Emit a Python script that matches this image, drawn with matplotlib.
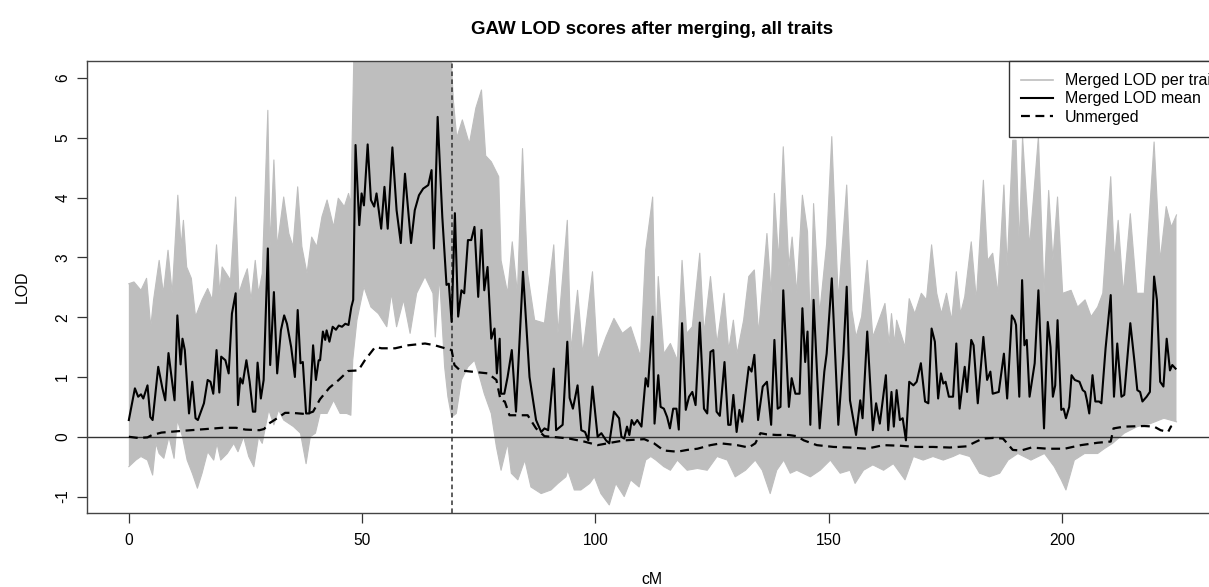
import numpy as np
import matplotlib
matplotlib.use("Agg")
import matplotlib.pyplot as plt
from matplotlib.lines import Line2D

plt.rcParams['font.family'] = ['Liberation Sans', 'DejaVu Sans']

# Media de LOD fusionado (cM, LOD)
mean_pts = [
    (0.0, 0.28), (1.3, 0.81), (2.0, 0.67), (2.6, 0.71), (3.1, 0.64), (4.0, 0.86),
    (4.6, 0.33), (5.1, 0.28), (6.3, 1.17), (7.2, 0.81), (7.8, 0.61), (8.5, 1.40),
    (9.0, 1.09), (9.8, 0.61), (10.4, 2.03), (11.1, 1.21), (11.5, 1.64), (12.0, 1.45),
    (12.9, 0.39), (13.6, 0.92), (14.3, 0.31), (14.8, 0.28), (16.1, 0.56), (16.9, 0.95),
    (17.5, 0.92), (18.1, 0.72), (18.8, 1.45), (19.4, 0.74), (19.8, 1.34), (20.7, 1.28),
    (21.4, 1.06), (22.1, 2.06), (22.9, 2.40), (23.4, 0.53), (23.9, 0.98), (24.4, 0.89),
    (25.2, 1.28), (25.9, 0.92), (26.6, 0.42), (27.1, 0.42), (27.6, 1.24), (28.3, 0.64),
    (28.9, 0.95), (29.8, 3.15), (30.3, 1.20), (31.1, 2.42), (31.8, 1.06), (32.6, 1.78),
    (33.3, 2.03), (33.9, 1.89), (34.8, 1.50), (35.6, 1.00), (36.2, 2.12), (36.8, 1.23),
    (37.3, 1.25), (38.0, 0.39), (38.7, 0.39), (39.5, 1.53), (40.1, 0.95), (40.7, 1.28),
    (41.0, 1.28), (41.6, 1.76), (42.1, 1.62), (42.4, 1.78), (43.0, 1.59), (43.7, 1.84),
    (44.4, 1.79), (45.0, 1.86), (45.7, 1.84), (46.4, 1.89), (47.1, 1.87), (47.7, 2.17),
    (48.1, 2.29), (48.6, 4.88), (49.4, 3.54), (49.9, 4.07), (50.4, 3.87), (51.2, 4.89),
    (51.9, 3.96), (52.6, 3.85), (53.1, 4.07), (54.1, 3.48), (54.8, 4.18), (55.5, 3.48),
    (56.5, 4.84), (57.4, 3.79), (58.3, 3.24), (59.2, 4.40), (60.5, 3.24), (61.3, 3.79),
    (62.2, 4.04), (63.1, 4.15), (64.2, 4.21), (64.9, 4.46), (65.4, 3.15), (66.2, 5.35),
    (67.2, 3.68), (68.1, 2.54), (68.6, 2.56), (69.2, 1.92), (69.9, 3.74), (70.6, 2.01),
    (71.3, 2.45), (71.9, 2.40), (72.7, 3.29), (73.4, 3.29), (74.1, 3.51), (74.9, 2.34),
    (75.6, 3.46), (76.2, 2.45), (76.9, 2.84), (77.7, 1.64), (78.4, 1.81), (78.9, 1.06),
    (79.5, 1.64), (79.8, 0.72), (80.5, 0.72), (81.2, 1.00), (82.1, 1.45), (83.0, 0.42),
    (84.5, 2.76), (85.9, 1.00), (87.3, 0.28), (88.4, 0.08), (89.1, 0.14), (89.9, 0.11),
    (91.1, 1.14), (91.6, 0.11), (93.0, 0.20), (94.0, 1.59), (94.5, 0.65), (95.2, 0.47),
    (96.2, 0.86), (97.0, 0.11), (97.8, 0.08), (98.5, -0.06), (99.4, 0.84), (100.5, 0.00),
    (101.3, 0.06), (102.3, -0.06), (103.0, -0.11), (104.0, 0.42), (105.1, 0.31), (105.6, 0.00),
    (106.2, -0.03), (106.8, 0.17), (107.3, 0.03), (107.8, 0.28), (108.3, 0.20), (109.0, 0.28),
    (109.9, 0.17), (110.8, 0.98), (111.3, 0.84), (112.3, 2.01), (112.7, 0.22), (113.5, 1.03),
    (114.0, 0.50), (114.7, 0.47), (115.4, 0.33), (116.0, 0.14), (116.7, 0.47), (117.4, 0.47),
    (117.9, 0.12), (118.6, 1.90), (119.4, 0.45), (120.1, 0.67), (120.8, 0.75), (121.5, 0.53),
    (122.4, 1.91), (123.3, 0.47), (124.0, 0.39), (124.7, 1.42), (125.3, 1.45), (126.0, 0.42),
    (126.7, 0.35), (127.7, 1.25), (128.5, 0.20), (129.0, 0.20), (129.6, 0.70), (130.3, 0.08),
    (130.9, 0.45), (131.5, 0.25), (132.2, 0.72), (132.9, 1.17), (133.5, 1.09), (134.1, 1.37),
    (134.9, 0.28), (135.9, 0.84), (136.8, 0.92), (137.7, 0.20), (138.4, 1.62), (139.1, 0.47),
    (139.7, 0.50), (140.3, 2.45), (141.5, 0.50), (142.1, 0.98), (142.9, 0.72), (143.8, 0.72),
    (144.4, 2.15), (145.0, 1.25), (145.5, 1.76), (146.1, 0.20), (146.8, 2.29), (148.1, 0.14),
    (149.1, 1.09), (149.6, 1.39), (150.7, 2.65), (152.1, 0.20), (153.2, 1.39), (153.9, 2.51),
    (154.6, 0.61), (155.9, 0.03), (156.8, 0.61), (157.3, 0.31), (158.3, 1.76), (159.5, 0.11),
    (160.2, 0.56), (161.0, 0.22), (162.3, 1.03), (162.8, 0.11), (163.5, 0.75), (164.0, 0.17),
    (164.6, 0.78), (165.3, 0.28), (165.9, 0.31), (166.6, -0.06), (167.3, 0.92), (168.2, 0.86),
    (168.9, 0.92), (169.8, 1.23), (170.7, 0.59), (171.4, 0.56), (172.1, 1.81), (172.8, 1.59),
    (173.5, 0.64), (174.1, 1.06), (174.6, 0.89), (175.1, 0.92), (175.8, 0.67), (176.7, 0.67),
    (177.4, 1.56), (178.1, 0.47), (179.2, 1.17), (179.7, 0.75), (180.6, 1.62), (181.1, 1.53),
    (182.0, 0.56), (183.2, 1.67), (184.0, 0.95), (184.7, 1.09), (185.2, 0.72), (186.5, 0.75),
    (187.6, 1.39), (188.3, 0.64), (189.3, 2.03), (189.9, 1.95), (190.2, 1.87), (190.9, 0.67),
    (191.5, 2.62), (192.0, 1.53), (192.5, 1.62), (193.1, 0.67), (194.2, 1.23), (195.0, 2.45),
    (196.2, 0.14), (197.0, 1.92), (197.6, 1.50), (198.1, 0.67), (198.6, 0.86), (199.1, 1.95),
    (199.9, 0.45), (200.4, 0.47), (200.9, 0.31), (201.6, 0.50), (202.1, 1.03), (202.8, 0.95),
    (203.8, 0.92), (204.5, 0.78), (205.0, 0.75), (205.4, 0.61), (205.9, 0.39), (206.6, 1.03),
    (207.2, 0.59), (208.0, 0.59), (208.5, 0.56), (209.4, 1.48), (210.5, 2.37), (211.2, 0.67),
    (211.9, 1.56), (212.8, 0.67), (213.4, 0.70), (214.7, 1.90), (215.6, 1.25), (216.2, 0.78),
    (216.8, 0.75), (217.3, 0.59), (218.2, 0.67), (218.9, 0.75), (219.8, 2.68), (220.4, 2.29),
    (221.1, 0.92), (221.8, 0.84), (222.5, 1.64), (223.2, 1.11), (223.7, 1.20), (224.4, 1.14),
]

# LOD sin fusionar (linea discontinua)
unmerged_pts = [
    (0, 0.00), (2, -0.02), (4, -0.01), (5, 0.03), (7, 0.07), (10, 0.09), (15, 0.12),
    (20, 0.15), (23, 0.15), (25, 0.12), (28, 0.11), (29, 0.13), (30, 0.22), (32, 0.32),
    (33.5, 0.40), (35, 0.40), (38, 0.38), (39.5, 0.42), (41, 0.63), (43, 0.82), (45, 0.95),
    (47, 1.10), (49.2, 1.11), (50.6, 1.28), (52.8, 1.50), (54.2, 1.48), (57.1, 1.48),
    (59.9, 1.53), (63.5, 1.56), (65.6, 1.53), (67.8, 1.48), (69.2, 1.45), (69.8, 1.20),
    (71.0, 1.11), (73.4, 1.09), (77.0, 1.06), (78.8, 0.95), (79.7, 0.61), (80.6, 0.59),
    (81.6, 0.36), (85.5, 0.36), (87.3, 0.14), (89.1, 0.01), (91.9, -0.01), (94.4, -0.03),
    (97.6, -0.08), (100.5, -0.14), (103.3, -0.10), (106.2, -0.06), (110.5, -0.04),
    (112.6, -0.11), (114.7, -0.23), (117.6, -0.25), (119.7, -0.22), (121.9, -0.20),
    (124.7, -0.14), (126.9, -0.11), (130.4, -0.14), (132.9, -0.18), (134.3, -0.11),
    (135.4, 0.06), (136.8, 0.04), (138.9, 0.03), (141.4, 0.03), (143.2, 0.01), (144.7, -0.06),
    (147.5, -0.14), (151.1, -0.17), (154.6, -0.18), (158.2, -0.20), (161.8, -0.14),
    (165.3, -0.15), (168.9, -0.17), (172.4, -0.17), (176.0, -0.18), (179.6, -0.16),
    (181.7, -0.08), (183.1, -0.03), (185.3, -0.02), (187.4, -0.03), (188.3, -0.11),
    (189.5, -0.22), (191.3, -0.23), (193.5, -0.18), (197.0, -0.20), (200.6, -0.20),
    (204.1, -0.14), (207.7, -0.10), (210.5, -0.08), (211.1, 0.14), (213.4, 0.17),
    (217.7, 0.18), (219.8, 0.17), (221.2, 0.11), (222.8, 0.08), (223.4, 0.17), (223.6, 0.18),
]

# Envolvente superior de las curvas por rasgo
trait_hi = [
    (0, 2.56), (1.1, 2.59), (2.6, 2.45), (3.8, 2.65), (4.7, 1.84), (5.3, 2.29), (6.5, 2.95),
    (7.4, 2.40), (8.4, 3.12), (9.3, 2.40), (10.5, 4.04), (11.2, 3.18), (11.7, 3.62), (12.4, 2.84),
    (13.4, 2.65), (14.3, 2.01), (15.7, 2.29), (16.9, 2.48), (17.9, 2.29), (18.8, 3.21), (19.5, 2.40),
    (20.0, 2.84), (20.9, 2.73), (21.8, 2.62), (22.9, 4.01), (23.6, 2.40), (24.5, 2.62), (25.4, 2.81),
    (26.2, 2.29), (27.1, 2.95), (27.8, 2.40), (28.6, 2.73), (29.8, 5.46), (30.3, 3.18), (31.1, 4.63),
    (31.8, 3.18), (33.2, 4.01), (34.3, 3.40), (35.2, 3.18), (36.2, 4.18), (37.1, 3.18), (38.2, 2.73),
    (39.2, 3.34), (40.3, 3.18), (41.4, 3.68), (42.5, 3.96), (43.9, 3.51), (44.9, 3.99), (46.2, 3.85),
    (47.1, 4.07), (47.6, 3.90), (48.3, 6.6), (67.0, 6.6), (68.9, 6.6), (69.6, 5.6), (70.3, 5.0),
    (71.5, 5.3), (73.0, 4.9), (74.4, 5.5), (75.6, 5.8), (76.5, 4.7), (77.7, 4.6), (79.3, 4.35),
    (79.8, 2.95), (81.2, 2.40), (82.2, 3.26), (83.3, 2.40), (84.4, 4.82), (85.5, 2.73), (87.0, 1.95),
    (89.1, 1.90), (91.1, 3.21), (92.0, 1.73), (94.0, 3.62), (94.8, 1.45), (96.2, 2.45), (97.3, 1.39),
    (99.4, 2.76), (100.5, 1.28), (102.3, 1.67), (104.0, 1.98), (105.8, 1.73), (107.6, 1.84),
    (109.7, 1.34), (110.8, 3.12), (112.3, 4.01), (113.0, 1.56), (113.5, 2.68), (114.7, 1.39),
    (116.1, 1.56), (117.6, 1.28), (118.6, 2.95), (119.6, 1.73), (120.8, 1.84), (122.4, 3.07),
    (123.3, 1.73), (124.7, 2.68), (126.1, 1.56), (127.6, 2.40), (128.6, 1.45), (129.6, 1.95),
    (130.4, 1.39), (131.8, 1.95), (132.9, 2.68), (134.1, 2.79), (135.0, 1.73), (136.8, 3.40),
    (137.7, 2.40), (138.4, 4.07), (139.3, 2.95), (140.3, 4.85), (141.5, 2.84), (142.2, 3.34),
    (143.2, 2.40), (144.4, 4.04), (145.5, 3.43), (146.1, 1.84), (146.8, 3.90), (148.1, 2.06),
    (149.6, 3.23), (150.7, 5.02), (152.1, 2.29), (153.9, 4.21), (155.0, 2.12), (155.9, 1.67),
    (157.1, 2.01), (158.3, 2.95), (159.5, 1.67), (160.3, 1.84), (162.1, 2.23), (163.0, 1.56),
    (163.5, 2.06), (164.2, 1.56), (164.6, 1.95), (166.4, 1.50), (167.3, 2.31), (168.5, 2.06),
    (169.9, 2.40), (171.0, 2.29), (172.1, 3.21), (173.2, 2.40), (174.2, 2.06), (175.3, 2.40),
    (176.4, 1.95), (177.4, 2.76), (178.3, 2.06), (179.2, 2.34), (180.6, 3.26), (181.7, 2.29),
    (183.2, 4.29), (184.1, 2.95), (185.2, 3.07), (186.3, 2.40), (187.6, 4.21), (188.3, 2.84),
    (189.5, 4.96), (190.2, 4.96), (190.9, 3.18), (191.6, 5.02), (193.1, 3.18), (195.0, 5.02),
    (196.2, 2.40), (197.2, 4.12), (198.1, 2.95), (199.1, 4.01), (200.2, 2.40), (202.0, 2.45),
    (203.4, 2.17), (205.0, 2.29), (206.3, 2.01), (207.7, 2.17), (208.8, 2.40), (210.5, 4.35),
    (211.3, 2.95), (212.1, 3.62), (213.2, 2.40), (214.7, 3.73), (216.1, 2.40), (217.7, 2.40),
    (219.8, 4.93), (221.1, 2.95), (222.4, 3.85), (223.5, 3.51), (224.6, 3.71),
]

# Envolvente inferior de las curvas por rasgo
trait_lo = [
    (0, -0.50), (1.5, -0.39), (2.6, -0.33), (4.0, -0.39), (5.1, -0.64), (5.8, -0.11), (6.5, -0.28),
    (7.5, -0.36), (8.6, 0.00), (9.7, -0.36), (10.4, 0.28), (11.5, 0.00), (12.5, -0.39), (13.6, -0.61),
    (14.7, -0.86), (15.7, -0.61), (16.9, -0.25), (18.2, -0.39), (18.9, -0.11), (19.7, -0.39),
    (21.1, -0.28), (22.5, -0.11), (23.4, -0.25), (24.6, 0.00), (25.7, -0.33), (26.8, -0.50),
    (27.8, 0.00), (28.6, -0.11), (30.0, 0.45), (31.1, 0.20), (32.1, 0.45), (33.2, 0.28), (35.3, 0.17),
    (36.8, 0.06), (38.0, -0.45), (38.9, 0.00), (40.0, 0.06), (41.0, 0.39), (42.5, 0.39), (43.9, 0.61),
    (45.3, 0.39), (46.7, 0.39), (47.6, 0.36), (48.0, 1.28), (48.9, 1.95), (50.4, 2.51), (51.9, 2.17),
    (53.5, 2.06), (55.3, 1.84), (56.3, 2.40), (57.4, 1.84), (58.9, 2.29), (60.3, 1.73), (61.7, 2.40),
    (63.5, 2.68), (65.2, 2.40), (65.7, 1.67), (66.6, 2.68), (67.7, 1.17), (68.4, 0.67), (69.2, 0.33),
    (70.2, 0.39), (71.3, 0.95), (72.7, 1.17), (74.1, 1.28), (75.2, 1.00), (76.2, 0.72), (77.7, 0.39),
    (78.8, -0.17), (79.8, -0.56), (81.2, -0.11), (82.0, -0.61), (83.4, -0.72), (84.9, -0.39),
    (86.2, -0.84), (88.4, -0.95), (90.5, -0.89), (92.0, -0.78), (93.7, -0.67), (94.1, -0.56),
    (95.5, -0.89), (96.9, -0.89), (98.8, -0.78), (99.8, -0.67), (101.2, -0.95), (103.0, -1.14),
    (104.4, -0.78), (106.2, -1.00), (107.6, -0.72), (109.4, -0.84), (110.8, -0.39), (111.9, -0.33),
    (113.0, -0.39), (114.7, -0.50), (116.1, -0.56), (117.6, -0.39), (119.7, -0.56), (121.9, -0.53),
    (124.0, -0.56), (126.1, -0.33), (128.3, -0.39), (130.0, -0.67), (132.2, -0.56), (134.3, -0.39),
    (135.8, -0.56), (137.5, -0.95), (138.9, -0.56), (140.4, -0.39), (141.8, -0.61), (143.2, -0.56),
    (146.1, -0.67), (148.2, -0.56), (150.4, -0.39), (152.5, -0.61), (154.6, -0.56), (155.7, -0.78),
    (157.5, -0.56), (159.5, -0.47), (161.8, -0.56), (163.9, -0.45), (166.4, -0.72), (168.2, -0.33),
    (170.3, -0.39), (172.4, -0.33), (174.6, -0.39), (176.7, -0.33), (178.1, -0.28), (180.3, -0.33),
    (182.4, -0.61), (184.5, -0.67), (186.7, -0.61), (188.5, -0.39), (190.6, -0.28), (193.4, -0.39),
    (196.3, -0.28), (198.4, -0.50), (199.9, -0.72), (200.9, -0.89), (202.7, -0.39), (204.9, -0.28),
    (207.7, -0.28), (209.1, -0.20), (210.9, -0.11), (213.4, 0.06), (216.2, 0.17), (219.0, 0.22),
    (221.9, 0.31), (224.6, 0.25),
]

marker_cm = 69.3
x_ticks = [0, 50, 100, 150, 200]
y_ticks = [-1, 0, 1, 2, 3, 4, 5, 6]
legend_labels = ['Merged LOD per trait', 'Merged LOD mean', 'Unmerged']

W, H = 1209, 587
fig = plt.figure(figsize=(W / 100, H / 100), dpi=100)
ax = fig.add_axes([87 / W, 1 - 513.3 / H, (1218 - 87) / W, (513.3 - 60.7) / H])

gris = '#BEBEBE'
hi = np.array(trait_hi)
lo = np.array(trait_lo)
ax.fill(np.r_[hi[:, 0], lo[::-1, 0]], np.r_[hi[:, 1], lo[::-1, 1]],
        color=gris, lw=0, zorder=1)
ax.plot(hi[:, 0], hi[:, 1], color=gris, lw=0.8, zorder=1)
ax.plot(lo[:, 0], lo[:, 1], color=gris, lw=0.8, zorder=1)

ax.axhline(0, color='#333333', lw=1, zorder=2)
ax.axvline(marker_cm, color='#333333', lw=1.1, ls=(0, (3, 2.2)), zorder=2)

mx, my = zip(*mean_pts)
ax.plot(mx, my, color='black', lw=1.5, zorder=3)
ux, uy = zip(*unmerged_pts)
ax.plot(ux, uy, color='black', lw=1.6, dashes=(4, 2.5), zorder=3)

ax.set_xlim(-8.97, 233.5)
ax.set_ylim(-1.28, 6.29)
ax.set_xticks(x_ticks)
ax.set_yticks(y_ticks)
ax.set_yticklabels([str(v) for v in y_ticks], rotation=90, va='center')
ax.tick_params(length=7, width=0.9, color='#333333', labelsize=11.2, pad=7)
ax.tick_params(axis='y', pad=5)
for s in ax.spines.values():
    s.set_color('#444444')
    s.set_linewidth(1.0)

handles = [Line2D([], [], color=gris, lw=1.2),
           Line2D([], [], color='black', lw=1.5),
           Line2D([], [], color='black', lw=1.6, dashes=(4, 2.5))]
# la leyenda empieza en x=1009 px y se sale por la derecha, como en el original
leg = ax.legend(handles, legend_labels, loc='upper left',
                bbox_to_anchor=((1009 - 87) / (1218 - 87), 1.0), borderaxespad=0,
                fancybox=False, framealpha=1, edgecolor='#333333', fontsize=11.5,
                handlelength=1.95, handletextpad=0.78, labelspacing=0.2,
                borderpad=0.78)
leg.get_frame().set_linewidth(1.0)

fig.text(652 / W, 1 - 30 / H, 'GAW LOD scores after merging, all traits',
         ha='center', va='center', fontsize=13.5, fontweight='bold')
fig.text(652 / W, 1 - 579 / H, 'cM', ha='center', va='center', fontsize=11.4)
fig.text(22 / W, 1 - 287 / H, 'LOD', ha='center', va='center', rotation=90, fontsize=11.4)

fig.savefig('out.png', dpi=100)
